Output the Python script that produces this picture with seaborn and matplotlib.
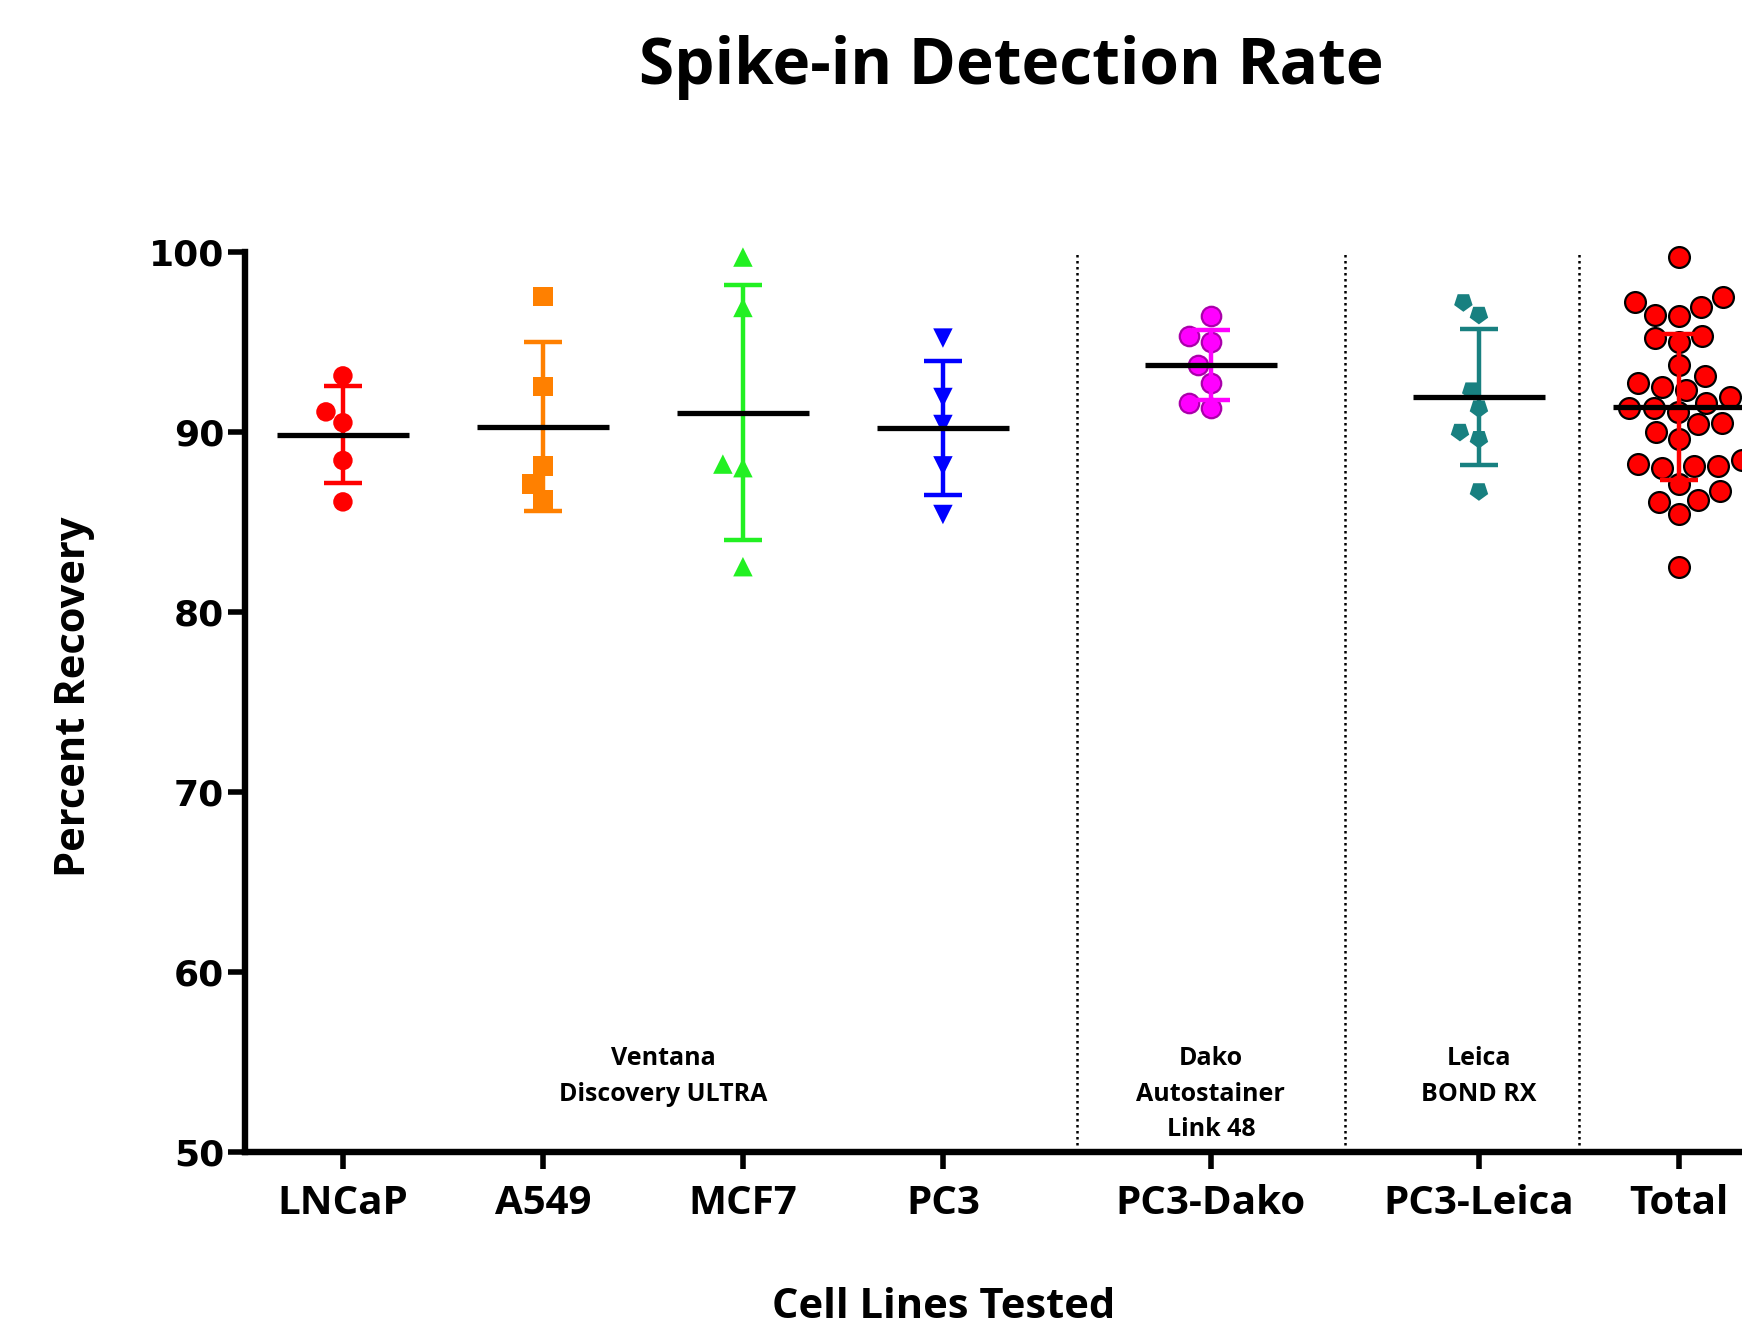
import numpy as np
import pandas as pd
import matplotlib
matplotlib.use("Agg")
import matplotlib.pyplot as plt
import seaborn as sns

# Gruppen (x-Achse)
cell_lines = ["LNCaP", "A549", "MCF7", "PC3", "PC3-Dako", "PC3-Leica"]
total_label = "Total"

# Percent Recovery
lncap = [93.1, 91.1, 90.5, 88.4, 86.1]
a549 = [97.5, 92.5, 88.1, 87.1, 86.2]
mcf7 = [99.7, 96.9, 88.2, 88.0, 82.5]
pc3 = [95.2, 91.9, 90.4, 88.1, 85.4]
pc3_dako = [96.4, 95.3, 95.0, 93.7, 92.7, 91.6, 91.3]
pc3_leica = [97.2, 96.5, 92.3, 91.3, 90.0, 89.6, 86.7]

instruments = ["Ventana\nDiscovery ULTRA", "Dako\nAutostainer\nLink 48", "Leica\nBOND RX"]

# Layout: ungleiche Abstände zwischen den Gruppen
group_pos = [0, 1, 2, 3, 4.34, 5.68, 6.68]
separator_pos = [3.67, 5.01, 6.18]
instrument_pos = [1.6, 4.34, 5.68]

colors = ["#ff0000", "#ff8000", "#22f022", "#0000ff", "#ff00ff", "#188080", "#ff0000"]
markers = ["o", "s", "^", "v", "o", (5, 0, 180), "o"]
edges = ["none", "none", "none", "none", "#aa00aa", "none", "black"]
sizes = [14, 14, 14, 14, 14, 14, 15]

# Long-Format DataFrame
series = [lncap, a549, mcf7, pc3, pc3_dako, pc3_leica]
rows = []
for name, vals in zip(cell_lines, series):
    for v in vals:
        rows.append((name, v))
df = pd.DataFrame(rows, columns=["group", "value"])
df_total = df.assign(group=total_label)
df = pd.concat([df, df_total], ignore_index=True)
labels = cell_lines + [total_label]
df["pos"] = df["group"].map(dict(zip(labels, group_pos)))

stats = df.groupby("group", sort=False)["value"].agg(["mean", "std"]).loc[labels]

sns.set_theme(style="ticks")
plt.rcParams["font.family"] = ["Open Sans", "DejaVu Sans"]
plt.rcParams["text.color"] = "black"
plt.rcParams["xtick.color"] = "black"
plt.rcParams["ytick.color"] = "black"

fig = plt.figure(figsize=(17.42, 13.19), dpi=100)
xmin, xmax = -0.49, 7.3
ax = fig.add_axes([0.1406, 0.1268, (xmax - xmin) * 200 / 1742, 0.6824])

# Punkte je Gruppe
for i, g in enumerate(labels):
    sub = df[df["group"] == g]
    sns.swarmplot(data=sub, x="pos", y="value", native_scale=True, orient="x",
                  color=colors[i], marker=markers[i], size=sizes[i],
                  edgecolor=edges[i], linewidth=1.6 if edges[i] != "none" else 0,
                  ax=ax, zorder=2)
for coll in ax.collections:
    coll.set_clip_on(False)

# Mittelwert +- SD
for i, g in enumerate(labels):
    ax.errorbar(group_pos[i], stats.loc[g, "mean"], yerr=stats.loc[g, "std"], fmt="none",
                ecolor=colors[i], elinewidth=3.2, capsize=14, capthick=3.2, zorder=3)
ax.hlines(stats["mean"], np.array(group_pos) - 0.33, np.array(group_pos) + 0.33,
          colors="black", linewidth=3.8, zorder=4)

# Trennlinien und Gerätenamen
ax.vlines(separator_pos, 50.4, 100, colors="black", linestyles=(0, (1, 1.4)), linewidth=1.8)
for x, t in zip(instrument_pos, instruments):
    ax.text(x, 55.85, t, ha="center", va="top", fontsize=18, fontweight="bold",
            linespacing=1.55)

ax.set_xlim(xmin, xmax)
ax.set_ylim(50, 100)
ax.set_yticks(range(50, 101, 10))
ax.set_xticks(group_pos)
ax.set_xticklabels(labels, fontsize=29, fontweight="bold")
for lab in ax.get_yticklabels():
    lab.set_fontfamily("DejaVu Sans")
    lab.set_fontweight("bold")
    lab.set_fontsize(26)
ax.tick_params(axis="both", length=12, width=4, colors="black")
ax.tick_params(axis="y", pad=3)
ax.tick_params(axis="x", pad=11)
ax.set_xlabel("")
ax.set_ylabel("")
for s in ["top", "right"]:
    ax.spines[s].set_visible(False)
for s in ["left", "bottom"]:
    ax.spines[s].set_linewidth(4.6)
    ax.spines[s].set_color("black")

fig.text(0.5804, 0.949, "Spike-in Detection Rate", ha="center", va="center",
         fontsize=46, fontweight="bold")
fig.text(0.043, 0.4716, "Percent Recovery", ha="center", va="center", rotation=90,
         fontsize=30, fontweight="bold")
fig.text(0.5415, 0.0243, "Cell Lines Tested", ha="center", va="top",
         fontsize=30, fontweight="bold")

fig.savefig("out.png", dpi=100)
